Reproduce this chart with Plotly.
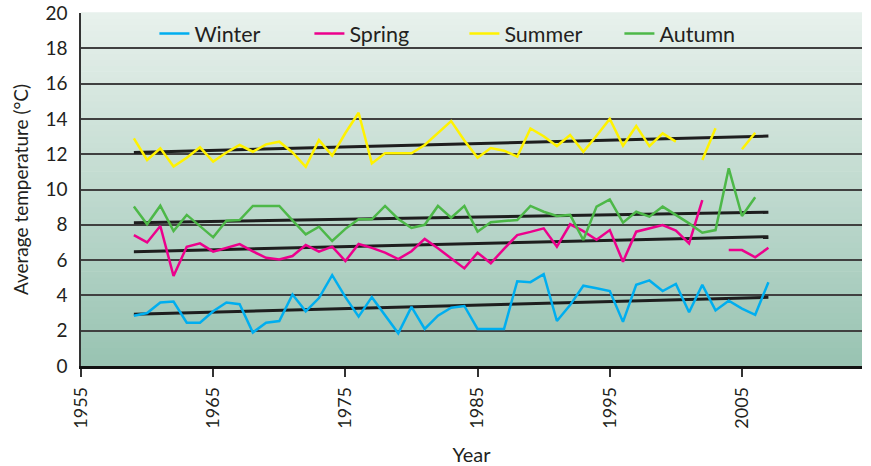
import plotly.graph_objects as go

years = list(range(1959, 2008))

winter = [2.85, 3.0, 3.6, 3.65, 2.45, 2.45, 3.1, 3.6, 3.5, 1.9,
          2.45, 2.55, 4.05, 3.1, 3.85, 5.15, 3.9, 2.8, 3.9, 2.85,
          1.85, 3.35, 2.1, 2.85, 3.3, 3.4, 2.1, 2.1, 2.1, 4.8,
          4.75, 5.2, 2.55, 3.45, 4.55, 4.4, 4.25, 2.5, 4.6, 4.85,
          4.25, 4.65, 3.05, 4.6, 3.15, 3.7, 3.25, 2.9, 4.75]

spring = [7.42, 7.0, 7.93, 5.1, 6.76, 6.95, 6.48, 6.69, 6.91, 6.49,
          6.13, 6.04, 6.23, 6.86, 6.48, 6.76, 5.95, 6.91, 6.69, 6.42,
          6.06, 6.5, 7.2, 6.67, 6.08, 5.53, 6.42, 5.82, 6.64, 7.42,
          7.6, 7.8, 6.76, 8.03, 7.64, 7.15, 7.7, 5.91, 7.61, 7.82,
          7.99, 7.67, 6.95, 9.4, None, 6.57, 6.57, 6.16, 6.7]

summer = [12.9, 11.67, 12.33, 11.3, 11.8, 12.39, 11.58, 12.1, 12.52, 12.14,
          12.56, 12.71, 12.1, 11.29, 12.8, 11.92, 13.2, 14.35, 11.48, 12.05,
          12.05, 12.05, 12.52, 13.2, 13.88, 12.78, 11.8, 12.35, 12.2, 11.86,
          13.46, 13.02, 12.46, 13.09, 12.14, 13.05, 14.0, 12.48, 13.6, 12.46,
          13.18, 12.71, None, 11.67, 13.47, None, 12.28, 13.22, None]

autumn = [9.03, 8.03, 9.08, 7.65, 8.56, 7.92, 7.29, 8.23, 8.27, 9.07,
          9.07, 9.07, 8.25, 7.46, 7.89, 7.08, 7.77, 8.31, 8.31, 9.07,
          8.33, 7.82, 8.0, 9.07, 8.4, 9.07, 7.61, 8.14, 8.21, 8.27,
          9.07, 8.74, 8.5, 8.56, 7.14, 9.03, 9.44, 8.12, 8.74, 8.46,
          9.03, 8.56, 8.08, 7.55, 7.7, 11.2, 8.5, 9.56, None]

trend_years = [1959, 2007]
winter_trend = [2.93, 3.89]
spring_trend = [6.48, 7.33]
summer_trend = [12.1, 13.03]
autumn_trend = [8.12, 8.71]

series_names = ["Winter", "Spring", "Summer", "Autumn"]
series_values = [winter, spring, summer, autumn]
trend_values = [winter_trend, spring_trend, summer_trend, autumn_trend]
colors = ["#00aeef", "#ec008c", "#fff200", "#4db848"]

x_tick_vals = [1955, 1965, 1975, 1985, 1995, 2005]
y_tick_vals = list(range(0, 21, 2))

FONT = "Lato"
TXT = "#231f20"

fig = go.Figure()

for tv in trend_values:
    fig.add_trace(go.Scatter(x=trend_years, y=tv, mode="lines",
                             line=dict(color="#1e1e1e", width=3),
                             showlegend=False, hoverinfo="skip"))

for name, vals, col in zip(series_names, series_values, colors):
    fig.add_trace(go.Scatter(x=years, y=vals, mode="lines", name=name,
                             line=dict(color=col, width=2.5),
                             connectgaps=False))

# gradient background
n = 60
top = (0xe8, 0xf1, 0xec)
bot = (0x98, 0xc3, 0xb2)
shapes = []
for i in range(n):
    t = (i + 0.5) / n
    c = tuple(round(bot[k] + (top[k] - bot[k]) * t) for k in range(3))
    shapes.append(dict(type="rect", xref="x domain", yref="y domain",
                       x0=0, x1=1, y0=i / n, y1=(i + 1) / n + 0.002,
                       fillcolor="rgb(%d,%d,%d)" % c, line=dict(width=0),
                       layer="below"))

fig.update_layout(
    width=871, height=466,
    margin=dict(l=81, r=9, t=13, b=100),
    paper_bgcolor="white", plot_bgcolor="rgba(0,0,0,0)",
    shapes=shapes,
    font=dict(family=FONT, size=18, color=TXT),
    showlegend=True,
    legend=dict(orientation="h", x=0.094, xanchor="left", y=1.0, yanchor="top",
                bgcolor="rgba(0,0,0,0)", font=dict(size=21.5, color=TXT),
                itemwidth=30, entrywidth=110, entrywidthmode="pixels",
                tracegroupgap=0),
    xaxis=dict(range=[1955, 2014.08], tickvals=x_tick_vals, tickangle=-90,
               ticks="outside", ticklen=8, tickwidth=1.5, tickcolor="#333",
               showgrid=False, zeroline=False, automargin=False,
               showline=True, linecolor="#111", linewidth=2.5,
               tickfont=dict(size=18, color=TXT), ticklabelstandoff=3,
               title=dict(text="Year", font=dict(size=20, color=TXT), standoff=22)),
    yaxis=dict(range=[0, 20], tickvals=y_tick_vals, ticks="",
               showgrid=True, gridcolor="#404040", gridwidth=1.5, automargin=False,
               zeroline=False, showline=True, linecolor="#333", linewidth=1.5,
               tickfont=dict(size=19, color=TXT), ticklabelstandoff=8,
               title=dict(text="Average temperature (\u00b0C)",
                          font=dict(size=19, color=TXT), standoff=12)),
)

fig.write_html("out.html", config={"displayModeBar": False},
               post_script="document.body.style.margin='0px';")
